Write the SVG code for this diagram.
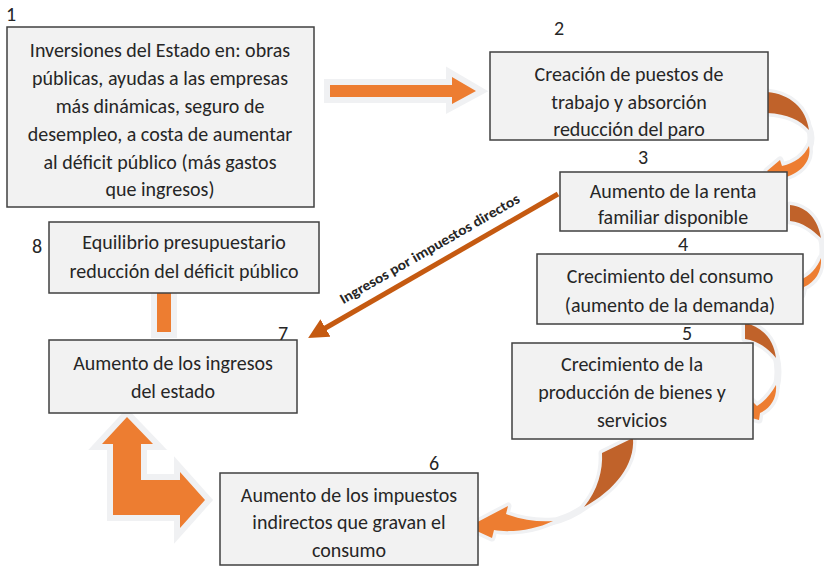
<svg xmlns="http://www.w3.org/2000/svg" width="824" height="572" viewBox="0 0 824 572">
<defs>
<style>
.box{fill:#F2F2F2;stroke:#404040;stroke-width:1.5}
.t{font-family:Carlito,Lato,"Liberation Sans",sans-serif;font-size:20px;fill:#262626;text-anchor:middle}
.n{font-family:Carlito,Lato,"Liberation Sans",sans-serif;font-size:20px;fill:#262626}
.lbl{font-family:Carlito,Lato,"Liberation Sans",sans-serif;font-size:14.5px;font-weight:bold;fill:#262626;text-anchor:middle}
.or{fill:#ED7D31;stroke:#F0F1F3;stroke-width:12;paint-order:stroke;stroke-linejoin:miter}
.dk{fill:#C0622A;stroke:#F0F1F3;stroke-width:7;paint-order:stroke;stroke-linejoin:round}
.lt{fill:#ED7D31;stroke:#F0F1F3;stroke-width:7;paint-order:stroke;stroke-linejoin:round}
.gh{fill:none;stroke:#F0F1F3;stroke-width:7;stroke-linecap:round}
</style>
<marker id="ah" viewBox="0 0 10 10" refX="2" refY="5" markerWidth="4" markerHeight="4" orient="auto" markerUnits="strokeWidth">
<path d="M0,0 L10,5 L0,10 Z" fill="#C55A11"/>
</marker>
</defs>
<rect width="824" height="572" fill="#FFFFFF"/>

<g id="connectors">
<path class="or" d="M330,85 H452 V77 L476,91 L452,104 V97 H330 Z"/>
<path class="or" d="M127,417 L153,444 L141,444 L141,480 L180,480 L180,472 L205,500 L180,528 L180,515 L113,515 L113,444 L102,444 Z"/>
<rect x="151" y="293" width="26" height="45" fill="#F0F1F3"/>
<rect x="157" y="293" width="14" height="39" fill="#ED7D31"/>
<path class="gh" d="M809,128 Q813,138 809,148"/>
<path class="gh" d="M821,236 Q825,250 821,264"/>
<path class="gh" d="M776,356 Q780,372 776,388"/>
<path class="gh" d="M586,506 Q570,518 551,522"/>
<path class="dk" d="M767,92 C790,94 806,108 809,130 C800,120 788,114 767,113 Z"/>
<path class="lt" d="M809,146 C812,162 800,174 782,178 L779,183 L767,171 L780,160 L782,166 C795,163 804,156 809,146 Z"/>
<path class="dk" d="M790,205 C808,207 818,220 821,238 C812,230 803,222 790,221 Z"/>
<path class="lt" d="M821,258 C822,272 815,282 804,287 L802,295 L792,289 L797,274 L800,280 C810,276 817,268 821,258 Z"/>
<path class="dk" d="M745,323 C763,327 774,340 776,358 C768,348 758,341 745,339 Z"/>
<path class="lt" d="M776,385 C777,398 771,408 760,413 L759,420 L748,417 L752,401 L757,406 C765,401 771,394 776,385 Z"/>
<path class="dk" d="M633,438 C635,465 615,490 584,507 C598,490 603,470 602,453 Z"/>
<path class="lt" d="M553,521 C535,530 510,533 494,530 L492,538 L468,527 L508,506 L506,514 C522,520 538,522 553,521 Z"/>
<line x1="558" y1="194" x2="322" y2="330" stroke="#C55A11" stroke-width="5" marker-end="url(#ah)"/>
<text class="lbl" transform="translate(432,253) rotate(-30)" textLength="205" lengthAdjust="spacingAndGlyphs">Ingresos por impuestos directos</text>
</g>

<g id="node1">
<rect class="box" x="7" y="27" width="307" height="180"/>
<text class="n" x="6" y="21">1</text>
<text class="t" x="160" y="57">Inversiones del Estado en: obras</text>
<text class="t" x="160" y="85">públicas, ayudas a las empresas</text>
<text class="t" x="160" y="113">más dinámicas, seguro de</text>
<text class="t" x="160" y="141">desempleo, a costa de aumentar</text>
<text class="t" x="160" y="169">al déficit público (más gastos</text>
<text class="t" x="160" y="196">que ingresos)</text>
</g>

<g id="node2">
<rect class="box" x="490" y="52" width="278" height="88"/>
<text class="n" x="554" y="35">2</text>
<text class="t" x="629" y="81">Creación de puestos de</text>
<text class="t" x="629" y="109">trabajo y absorción</text>
<text class="t" x="629" y="136">reducción del paro</text>
</g>

<g id="node3">
<rect class="box" x="560" y="172" width="227" height="59"/>
<text class="n" x="638" y="164">3</text>
<text class="t" x="673" y="198">Aumento de la renta</text>
<text class="t" x="673" y="224">familiar disponible</text>
</g>

<g id="node4">
<rect class="box" x="537" y="254" width="266" height="70"/>
<text class="n" x="678" y="251">4</text>
<text class="t" x="670" y="283">Crecimiento del consumo</text>
<text class="t" x="670" y="312">(aumento de la demanda)</text>
</g>

<g id="node5">
<rect class="box" x="512" y="343" width="241" height="96"/>
<text class="n" x="682" y="340">5</text>
<text class="t" x="632" y="371">Crecimiento de la</text>
<text class="t" x="632" y="399">producción de bienes y</text>
<text class="t" x="632" y="427">servicios</text>
</g>

<g id="node6">
<rect class="box" x="220" y="473" width="258" height="92"/>
<text class="n" x="429" y="470">6</text>
<text class="t" x="349" y="502">Aumento de los impuestos</text>
<text class="t" x="349" y="529">indirectos que gravan el</text>
<text class="t" x="349" y="557">consumo</text>
</g>

<g id="node7">
<rect class="box" x="49" y="340" width="248" height="73"/>
<text class="n" x="278" y="340">7</text>
<text class="t" x="173" y="370">Aumento de los ingresos</text>
<text class="t" x="173" y="398">del estado</text>
</g>

<g id="node8">
<rect class="box" x="49" y="222" width="270" height="71"/>
<text class="n" x="32" y="253">8</text>
<text class="t" x="184" y="249">Equilibrio presupuestario</text>
<text class="t" x="184" y="278">reducción del déficit público</text>
</g>
</svg>
